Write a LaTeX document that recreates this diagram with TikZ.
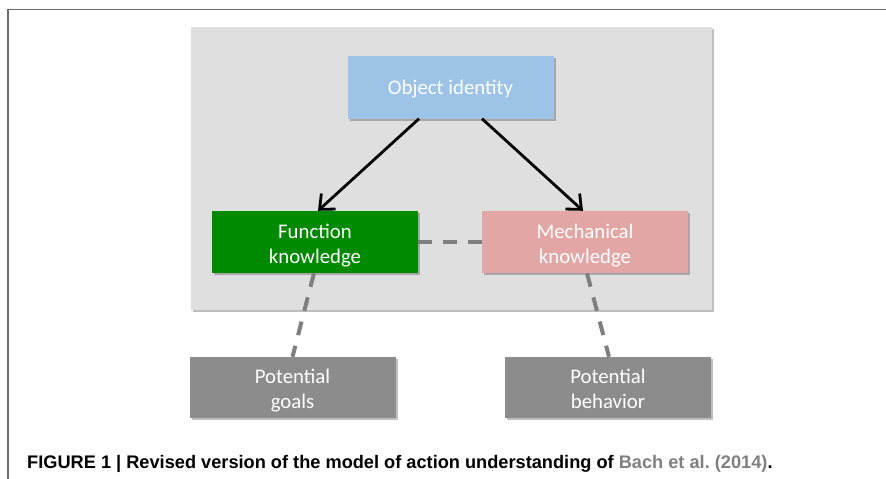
\documentclass[tikz,border=0pt]{standalone}
\usepackage{fontspec}
\setmainfont{Carlito}
\newfontfamily\capfont{Liberation Sans}
\usetikzlibrary{arrows.meta,shadows}

\definecolor{panelgray}{HTML}{DFDFDF}
\definecolor{idblue}{HTML}{9DC3E6}
\definecolor{fgreen}{HTML}{008A00}
\definecolor{mpink}{HTML}{E2A6A4}
\definecolor{boxgray}{HTML}{8C8C8C}
\definecolor{dashgray}{HTML}{7F7F7F}
\definecolor{framegray}{HTML}{6E6E6E}
\definecolor{citegray}{HTML}{808080}

\tikzset{
  boxshadow/.style={drop shadow={shadow xshift=2pt,shadow yshift=-2pt,fill=black,opacity=0.25}},
  conceptbox/.style={boxshadow,minimum width=206pt,minimum height=62pt,inner sep=0pt},
  boxtext/.style={text=white,align=center,inner sep=0pt,yshift=-4pt,text depth=4.5pt,
    font=\fontsize{20.8pt}{25pt}\selectfont},
  linkdash/.style={dashgray,line width=4pt,dash pattern=on 14pt off 11pt},
  causal/.style={black,line width=2.8pt,-{Straight Barb[length=12pt,width=21pt,line width=2.8pt]}}
}

\begin{document}
\begin{tikzpicture}[x=1pt,y=-1pt]
  \useasboundingbox (0,0) rectangle (886,479);
  \fill[white] (0,0) rectangle (886,479);

  % page frame
  \draw[framegray,line width=1.4pt] (8,479) -- (8,9.5) -- (886,9.5);

  % grey background panel
  \fill[boxshadow,panelgray] (191,27) rectangle (712,310);

  % concept boxes, text set as a centred label
  \node[conceptbox,fill=idblue,minimum height=63pt,
        label={[boxtext,yshift=1pt]center:{Object identity}}] (oi) at (450.5,87) {};
  \node[conceptbox,fill=fgreen,
        label={[boxtext]center:{Function\\knowledge}}] (fk) at (315,242) {};
  \node[conceptbox,fill=mpink,
        label={[boxtext]center:{Mechanical\\knowledge}}] (mk) at (585,242) {};
  \node[conceptbox,fill=boxgray,minimum height=61pt,
        label={[boxtext]center:{Potential\\goals}}] (pg) at (292.5,387.5) {};
  \node[conceptbox,fill=boxgray,minimum height=61pt,
        label={[boxtext]center:{Potential\\behavior}}] (pb) at (608,387.5) {};

  % causal arrows
  \draw[causal] ([xshift=-31.5pt]oi.south) -- ([xshift=3pt]fk.north);
  \draw[causal] ([xshift=31.5pt]oi.south) -- ([xshift=-2pt]mk.north);

  % associative links
  \draw[linkdash] (fk.east) -- (mk.west);
  \draw[linkdash] ([xshift=-1pt]fk.south) -- (pg.north);
  \draw[linkdash] ([xshift=2pt]mk.south) -- ([xshift=1pt]pb.north);

  % caption
  \node[anchor=base west,inner sep=0pt,font=\capfont\bfseries\fontsize{18.2pt}{22pt}\selectfont] (cap) at (27,468)
    {FIGURE 1 | Revised version of the model of action understanding of \textcolor{citegray}{Bach et al.\ (2014)}.};
\end{tikzpicture}
\end{document}
